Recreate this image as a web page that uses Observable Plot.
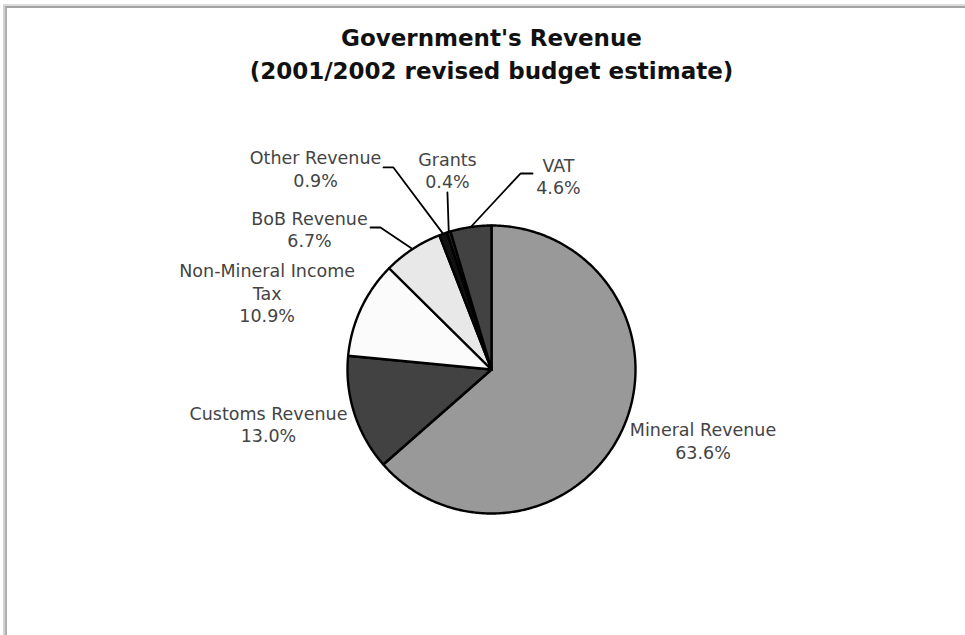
<!DOCTYPE html>
<html>
<head>
<meta charset="utf-8">
<script src="https://cdn.jsdelivr.net/npm/d3@7"></script>
<script src="https://cdn.jsdelivr.net/npm/@observablehq/plot@0.6"></script>
<style>
  html, body { margin: 0; padding: 0; background: #fff; }
  #page { position: relative; width: 965px; height: 635px; overflow: hidden; background: #fff; }
  #frameOuter { position: absolute; left: 3px; top: 4px; right: -10px; bottom: -10px;
    border-top: 2px solid #dcdcdc; border-left: 2px solid #d2d2d2; }
  #frameInner { position: absolute; left: 0; top: 0; right: 0; bottom: 0;
    border-top: 2px solid #a3a3a3; border-left: 2px solid #b0b0b0; }
  #title { position: absolute; left: 0; top: 22px; width: 965px; box-sizing: border-box; padding-left: 18px;
    text-align: center; font-family: "DejaVu Sans", Verdana, sans-serif; font-weight: bold;
    font-size: 23px; line-height: 33px; color: #111; }
  #chart { position: absolute; left: 0; top: 95px; }
</style>
</head>
<body>
<div id="page">
  <div id="frameOuter"><div id="frameInner"></div></div>
  <div id="title">Government's Revenue<br>(2001/2002 revised budget estimate)</div>
  <div id="chart"></div>
</div>
<script>
// ---- data ----
const categories = ["Mineral Revenue", "Customs Revenue", "Non-Mineral Income Tax", "BoB Revenue", "Other Revenue", "Grants", "VAT"];
const shares = [63.6, 13.0, 10.9, 6.7, 0.9, 0.4, 4.6];
const labelTexts = ["Mineral Revenue\n63.6%", "Customs Revenue\n13.0%", "Non-Mineral Income\nTax\n10.9%", "BoB Revenue\n6.7%", "Other Revenue\n0.9%", "Grants\n0.4%", "VAT\n4.6%"];

// ---- styling / layout (not data) ----
const sliceColors = ["#999999", "#424242", "#fbfbfb", "#e8e8e8", "#111111", "#2a2a2a", "#424242"];
// label centres in pie-radius units, relative to pie centre
const labelLayout = [
  {x: 1.469, y: -0.493}, {x: -1.549, y: -0.375}, {x: -1.558, y: 0.535}, {x: -1.264, y: 0.979},
  {x: -1.222, y: 1.396}, {x: -0.306, y: 1.385}, {x: 0.465, y: 1.347}
];
// leader-line elbows (pie-radius units), null = no leader
const leaderLayout = [
  null, null, null,
  [{x: -0.840, y: 0.986}, {x: -0.771, y: 0.986}],
  [{x: -0.750, y: 1.403}, {x: -0.681, y: 1.403}],
  [{x: -0.306, y: 1.229}],
  [{x: 0.285, y: 1.361}, {x: 0.201, y: 1.361}]
];

const W = 965, H = 540, R = 144, CX = 491, CY = 274;

const arcs = d3.pie().sort(null).startAngle(0).endAngle(2 * Math.PI)(shares);

const sliceMarks = arcs.map((a, i) => {
  const n = Math.max(2, Math.ceil((a.endAngle - a.startAngle) / 0.01));
  const pts = [{x: 0, y: 0}];
  for (let k = 0; k <= n; k++) {
    const t = a.startAngle + (a.endAngle - a.startAngle) * k / n;
    pts.push({x: Math.sin(t), y: Math.cos(t)});
  }
  pts.push({x: 0, y: 0});
  return Plot.line(pts, {x: "x", y: "y", fill: sliceColors[i], stroke: "#000", strokeWidth: 2.4, strokeLinejoin: "round"});
});

const leaderMarks = [];
arcs.forEach((a, i) => {
  const elbows = leaderLayout[i];
  if (!elbows) return;
  const m = (a.startAngle + a.endAngle) / 2;
  const pts = [...elbows, {x: Math.sin(m), y: Math.cos(m)}];
  leaderMarks.push(Plot.line(pts, {x: "x", y: "y", stroke: "#000", strokeWidth: 1.8}));
});

const labels = categories.map((c, i) => ({text: labelTexts[i], x: labelLayout[i].x, y: labelLayout[i].y}));

const chart = Plot.plot({
  width: W,
  height: H,
  margin: 0,
  x: {domain: [-CX / R, (W - CX) / R], range: [0, W], axis: null},
  y: {domain: [-(H - CY) / R, CY / R], range: [H, 0], axis: null},
  style: {fontFamily: "'DejaVu Sans', Verdana, sans-serif", background: "transparent"},
  marks: [
    ...sliceMarks,
    ...leaderMarks,
    Plot.text(labels, {x: "x", y: "y", text: "text", fontSize: 17.5, lineHeight: 1.27, fill: "#444444", textAnchor: "middle", lineAnchor: "middle"})
  ]
});
document.getElementById("chart").appendChild(chart);
</script>
</body>
</html>
